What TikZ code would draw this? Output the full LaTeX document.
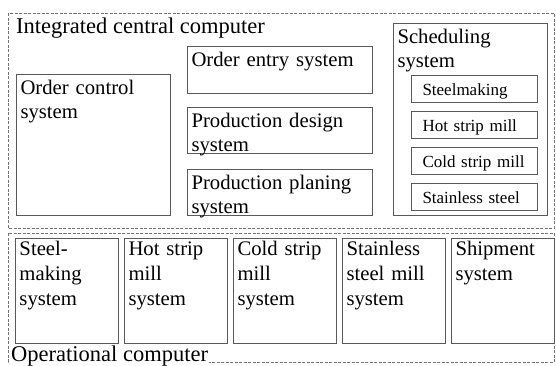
\documentclass[tikz,border=0pt]{standalone}
\usepackage{fontspec}
\setmainfont{Liberation Serif}
\usetikzlibrary{positioning}
\definecolor{boxline}{gray}{0.35}
\definecolor{dashline}{gray}{0.45}

\tikzset{
  sys/.style={draw=boxline, line width=1pt, anchor=north west, align=left,
    inner xsep=4pt, inner ysep=0pt, text height=20pt,
    font=\fontsize{20.7}{24}\selectfont},
  mill/.style={sys, text width=95pt, text height=17pt, text depth=88pt,
    font=\fontsize{20.7}{25}\selectfont},
  line/.style={draw=boxline, line width=1pt, align=left, inner xsep=11pt, inner ysep=0pt,
    text width=104pt, text height=20pt, text depth=7pt,
    font=\fontsize{17}{20}\selectfont},
  computer/.style={draw=dashline, line width=0.8pt, dash pattern=on 3pt off 1.5pt},
  head/.style={anchor=base west, inner sep=1pt, font=\fontsize{22.5}{26}\selectfont},
}

\begin{document}
\begin{tikzpicture}[x=1pt, y=-1pt]
\useasboundingbox (0,0) rectangle (556,365);
\draw[computer] (8,13) rectangle (554,228);
\draw[computer] (8,233) rectangle (554,362);
\node[head] (central) at (15,33) {Integrated central computer};
\node[head, fill=white] (oper) at (10,361) {Operational computer};

% central computer
\node[sys, text width=146pt, text depth=121pt] (ctl) at (16,74) {Order control\\system};
\node[sys, text width=177pt, text depth=27pt] (entry) at (187,46) {Order entry system};
\node[sys, text width=177pt, text depth=26pt] (design) at (187,107) {Production design\\system};
\node[sys, text width=177pt, text depth=26pt] (plan) at (187,169) {Production planing\\system};
\node[sys, text width=146pt, text depth=172pt] (sched) at (393,23) {Scheduling\\system};
\node[line, anchor=north west] (L1) at (411,75) {Steelmaking};
\node[line, below=8pt of L1] (L2) {Hot strip mill};
\node[line, below=8pt of L2] (L3) {Cold strip mill};
\node[line, below=8pt of L3] (L4) {Stainless steel};

% operational computers
\node[mill] (M1) at (15,238) {Steel-\\making\\system};
\node[mill, right=5pt of M1] (M2) {Hot strip\\mill\\system};
\node[mill, right=5pt of M2] (M3) {Cold strip\\mill\\system};
\node[mill, right=5pt of M3] (M4) {Stainless\\steel mill\\system};
\node[mill, right=5pt of M4] (M5) {Shipment\\system};
\end{tikzpicture}
\end{document}
